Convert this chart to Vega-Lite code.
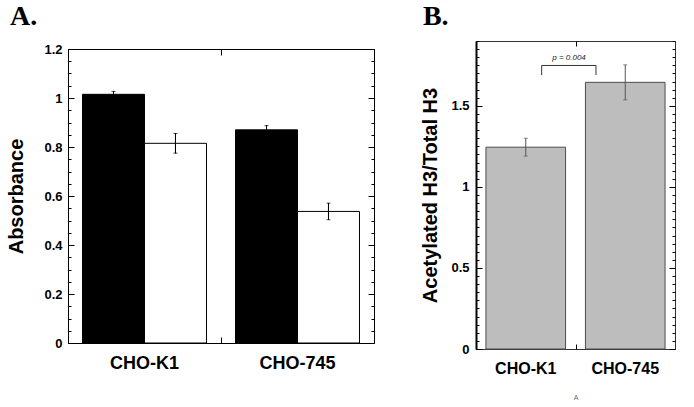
{
  "$schema": "https://vega.github.io/schema/vega-lite/v6.json",
  "background": "white",
  "padding": {"left": 6, "top": 2, "right": 0, "bottom": 0},
  "spacing": 45,
  "config": {
    "font": "Liberation Sans",
    "view": {"stroke": null},
    "axis": {"domain": false, "grid": false, "ticks": true, "tickWidth": 1, "tickOpacity": 1, "labelFont": "Liberation Sans", "labelFontWeight": "bold", "labelColor": "black", "tickColor": "black", "domainColor": "black", "titleColor": "black", "titleFont": "Liberation Sans", "titleFontWeight": "bold"}
  },
  "hconcat": [
    {
      "width": 306,
      "height": 302,
      "title": {"text": "A.", "font": "Liberation Serif", "fontSize": 28, "fontWeight": "bold", "anchor": "start", "frame": "bounds", "offset": 10, "dx": 3, "color": "black"},
      "data": {"values": [
        {"group": "CHO-K1", "cond": "a", "value": 1.015, "lo": 1.003, "hi": 1.027},
        {"group": "CHO-K1", "cond": "b", "value": 0.815, "lo": 0.775, "hi": 0.855},
        {"group": "CHO-745", "cond": "a", "value": 0.87, "lo": 0.853, "hi": 0.887},
        {"group": "CHO-745", "cond": "b", "value": 0.537, "lo": 0.503, "hi": 0.571}
      ]},
      "resolve": {"axis": {"x": "independent", "y": "independent"}},
      "layer": [
        {
          "mark": {"type": "bar", "stroke": "black", "strokeWidth": 1},
          "encoding": {
            "x": {"field": "group", "type": "nominal", "sort": ["CHO-K1", "CHO-745"], "scale": {"paddingInner": 0, "paddingOuter": 0}, "axis": {"orient": "bottom", "title": null, "domain": true, "ticks": false, "tickSize": 0, "labelAngle": 0, "labelFontSize": 18, "labelPadding": 11}},
            "xOffset": {"field": "cond", "type": "nominal", "sort": ["a", "b"], "scale": {"paddingInner": 0, "paddingOuter": 0.234}},
            "y": {"field": "value", "type": "quantitative", "scale": {"domain": [0, 1.2], "nice": false, "range": [302, 8]}, "axis": {"orient": "left", "values": [0, 0.2, 0.4, 0.6, 0.8, 1, 1.2], "format": "~g", "domain": true, "ticks": false, "tickSize": 0, "labelFontSize": 13, "labelPadding": 6, "title": "Absorbance", "titleFontSize": 20, "titlePadding": 17}},
            "fill": {"field": "cond", "type": "nominal", "scale": {"domain": ["a", "b"], "range": ["black", "white"]}, "legend": null}
          }
        },
        {
          "mark": {"type": "rule", "color": "black", "strokeWidth": 1},
          "encoding": {
            "x": {"field": "group", "type": "nominal", "sort": ["CHO-K1", "CHO-745"], "axis": {"orient": "bottom", "offset": -6, "bandPosition": 0, "ticks": true, "labels": false, "tickSize": 6, "domain": false, "title": null}},
            "xOffset": {"field": "cond", "type": "nominal", "sort": ["a", "b"]},
            "y": {"field": "lo", "type": "quantitative", "axis": null},
            "y2": {"field": "hi"}
          }
        },
        {
          "mark": {"type": "tick", "color": "black", "thickness": 1, "size": 4},
          "encoding": {
            "x": {"field": "group", "type": "nominal", "sort": ["CHO-K1", "CHO-745"], "axis": {"orient": "bottom", "offset": -294, "bandPosition": 0, "ticks": true, "labels": false, "tickSize": 6, "domain": true, "title": null}},
            "xOffset": {"field": "cond", "type": "nominal", "sort": ["a", "b"]},
            "y": {"field": "lo", "type": "quantitative", "axis": null}
          }
        },
        {
          "mark": {"type": "tick", "color": "black", "thickness": 1, "size": 4},
          "encoding": {
            "x": {"field": "group", "type": "nominal", "sort": ["CHO-K1", "CHO-745"], "axis": null},
            "xOffset": {"field": "cond", "type": "nominal", "sort": ["a", "b"]},
            "y": {"field": "hi", "type": "quantitative", "axis": {"orient": "left", "offset": -306, "values": [0, 0.2, 0.4, 0.6, 0.8, 1, 1.2], "ticks": true, "tickSize": 6, "labels": false, "domain": true, "title": null}}
          }
        },
        {
          "mark": {"type": "rule", "color": "black", "strokeWidth": 1},
          "encoding": {
            "x": {"field": "group", "type": "nominal", "sort": ["CHO-K1", "CHO-745"], "axis": null},
            "xOffset": {"field": "cond", "type": "nominal", "sort": ["a", "b"]},
            "y": {"field": "lo", "type": "quantitative", "axis": {"orient": "left", "offset": -306, "values": [0,0.05,0.1,0.15,0.2,0.25,0.3,0.35,0.4,0.45,0.5,0.55,0.6,0.65,0.7,0.75,0.8,0.85,0.9,0.95,1,1.05,1.1,1.15,1.2], "ticks": true, "tickSize": 3, "labels": false, "domain": false, "title": null}},
            "y2": {"field": "hi"}
          }
        },
        {
          "mark": {"type": "rule", "color": "black", "strokeWidth": 1},
          "encoding": {
            "x": {"field": "group", "type": "nominal", "sort": ["CHO-K1", "CHO-745"], "axis": null},
            "xOffset": {"field": "cond", "type": "nominal", "sort": ["a", "b"]},
            "y": {"field": "lo", "type": "quantitative", "axis": {"orient": "left", "values": [0, 0.2, 0.4, 0.6, 0.8, 1, 1.2], "ticks": false, "labels": false, "domain": false, "title": null, "grid": true, "gridColor": "black", "gridWidth": 1, "gridOpacity": 1, "gridDash": [6, 1000]}},
            "y2": {"field": "hi"}
          }
        },
        {
          "mark": {"type": "rule", "color": "black", "strokeWidth": 1},
          "encoding": {
            "x": {"field": "group", "type": "nominal", "sort": ["CHO-K1", "CHO-745"], "axis": null},
            "xOffset": {"field": "cond", "type": "nominal", "sort": ["a", "b"]},
            "y": {"field": "lo", "type": "quantitative", "axis": {"orient": "left", "values": [0,0.05,0.1,0.15,0.2,0.25,0.3,0.35,0.4,0.45,0.5,0.55,0.6,0.65,0.7,0.75,0.8,0.85,0.9,0.95,1,1.05,1.1,1.15,1.2], "ticks": false, "labels": false, "domain": false, "title": null, "grid": true, "gridColor": "black", "gridWidth": 1, "gridOpacity": 1, "gridDash": [3, 1000]}},
            "y2": {"field": "hi"}
          }
        }
      ]
    },
    {
      "width": 199,
      "height": 308,
      "view": {"stroke": "#333", "strokeWidth": 1},
      "title": {"text": "B.", "font": "Liberation Serif", "fontSize": 28, "fontWeight": "bold", "anchor": "start", "frame": "bounds", "offset": 10, "dx": 2, "color": "black"},
      "data": {"values": [
        {"group": "CHO-K1", "value": 1.245, "lo": 1.19, "hi": 1.3},
        {"group": "CHO-745", "value": 1.645, "lo": 1.537, "hi": 1.753}
      ]},
      "resolve": {"scale": {"x": "independent"}, "axis": {"x": "independent", "y": "independent"}},
      "layer": [
        {
          "mark": {"type": "bar", "fill": "#bdbdbd", "stroke": "#4d4d4d", "strokeWidth": 1},
          "encoding": {
            "x": {"field": "group", "type": "nominal", "sort": ["CHO-K1", "CHO-745"], "scale": {"type": "band", "paddingInner": 0.2, "paddingOuter": 0.1}, "axis": {"orient": "bottom", "ticks": false, "tickSize": 0, "labelAngle": 0, "labelFontSize": 16, "labelPadding": 11, "title": "A", "titleFontSize": 7, "titleFontWeight": "normal", "titleColor": "#666", "titlePadding": 17}},
            "y": {"field": "value", "type": "quantitative", "scale": {"domain": [0, 1.9], "nice": false}, "axis": {"orient": "left", "values": [0, 0.5, 1, 1.5], "format": "~g", "ticks": false, "tickSize": 0, "domain": true, "domainWidth": 2, "labelFontSize": 13, "labelPadding": 7, "title": "Acetylated H3/Total H3", "titleFontSize": 20, "titlePadding": 10}}
          }
        },
        {
          "mark": {"type": "rule", "color": "#555", "strokeWidth": 1},
          "encoding": {
            "x": {"field": "group", "type": "nominal", "sort": ["CHO-K1", "CHO-745"], "scale": {"type": "band", "paddingInner": 0.2, "paddingOuter": 0.1}, "axis": null},
            "y": {"field": "lo", "type": "quantitative", "scale": {"domain": [0, 1.9], "nice": false}, "axis": {"orient": "left", "values": [0, 0.5, 1, 1.5], "ticks": false, "labels": false, "domain": false, "title": null, "grid": true, "gridColor": "black", "gridWidth": 1, "gridOpacity": 1, "gridDash": [6, 1000]}},
            "y2": {"field": "hi"}
          }
        },
        {
          "mark": {"type": "tick", "color": "#555", "thickness": 1, "size": 4},
          "encoding": {
            "x": {"field": "group", "type": "nominal", "sort": ["CHO-K1", "CHO-745"], "scale": {"type": "band", "paddingInner": 0.2, "paddingOuter": 0.1}, "axis": null},
            "y": {"field": "lo", "type": "quantitative", "scale": {"domain": [0, 1.9], "nice": false}, "axis": {"orient": "left", "values": [0,0.05,0.1,0.15,0.2,0.25,0.3,0.35,0.4,0.45,0.5,0.55,0.6,0.65,0.7,0.75,0.8,0.85,0.9,0.95,1,1.05,1.1,1.15,1.2,1.25,1.3,1.35,1.4,1.45,1.5,1.55,1.6,1.65,1.7,1.75,1.8,1.85,1.9], "ticks": false, "labels": false, "domain": false, "title": null, "grid": true, "gridColor": "black", "gridWidth": 1, "gridOpacity": 1, "gridDash": [3, 1000]}}
          }
        },
        {
          "mark": {"type": "tick", "color": "#555", "thickness": 1, "size": 4},
          "encoding": {
            "x": {"field": "group", "type": "nominal", "sort": ["CHO-K1", "CHO-745"], "scale": {"type": "band", "paddingInner": 0.2, "paddingOuter": 0.1}, "axis": null},
            "y": {"field": "hi", "type": "quantitative", "scale": {"domain": [0, 1.9], "nice": false}, "axis": {"orient": "left", "offset": -199, "values": [0, 0.5, 1, 1.5], "ticks": true, "tickSize": 6, "labels": false, "title": null}}
          }
        },
        {
          "data": {"values": [{"x": 0.66, "x2": 1.206, "y": 1.749}]},
          "mark": {"type": "rule", "color": "#333", "strokeWidth": 1},
          "encoding": {
            "x": {"field": "x", "type": "quantitative", "scale": {"domain": [0, 2], "nice": false, "zero": false}, "axis": {"orient": "bottom", "offset": -5, "values": [1], "ticks": true, "tickSize": 5, "labels": false, "title": null}},
            "x2": {"field": "x2"},
            "y": {"field": "y", "type": "quantitative", "scale": {"domain": [0, 1.9], "nice": false}, "axis": {"orient": "left", "offset": -199, "values": [0,0.05,0.1,0.15,0.2,0.25,0.3,0.35,0.4,0.45,0.5,0.55,0.6,0.65,0.7,0.75,0.8,0.85,0.9,0.95,1,1.05,1.1,1.15,1.2,1.25,1.3,1.35,1.4,1.45,1.5,1.55,1.6,1.65,1.7,1.75,1.8,1.85,1.9], "ticks": true, "tickSize": 3, "labels": false, "title": null}}
          }
        },
        {
          "data": {"values": [{"x": 0.66, "y": 1.69, "y2": 1.749}, {"x": 1.206, "y": 1.69, "y2": 1.749}]},
          "mark": {"type": "rule", "color": "#333", "strokeWidth": 1},
          "encoding": {
            "x": {"field": "x", "type": "quantitative", "scale": {"domain": [0, 2], "nice": false, "zero": false}, "axis": {"orient": "bottom", "offset": -308, "values": [1], "ticks": true, "tickSize": 5, "labels": false, "title": null}},
            "y": {"field": "y", "type": "quantitative", "scale": {"domain": [0, 1.9], "nice": false}, "axis": null},
            "y2": {"field": "y2"}
          }
        },
        {
          "data": {"values": [{"x": 0.935, "y": 1.796, "label": "p = 0.004"}]},
          "mark": {"type": "text", "fontSize": 8, "fontStyle": "italic", "color": "#222", "baseline": "middle", "align": "center"},
          "encoding": {
            "x": {"field": "x", "type": "quantitative", "scale": {"domain": [0, 2], "nice": false, "zero": false}, "axis": null},
            "y": {"field": "y", "type": "quantitative", "scale": {"domain": [0, 1.9], "nice": false}, "axis": null},
            "text": {"field": "label"}
          }
        }
      ]
    }
  ]
}
